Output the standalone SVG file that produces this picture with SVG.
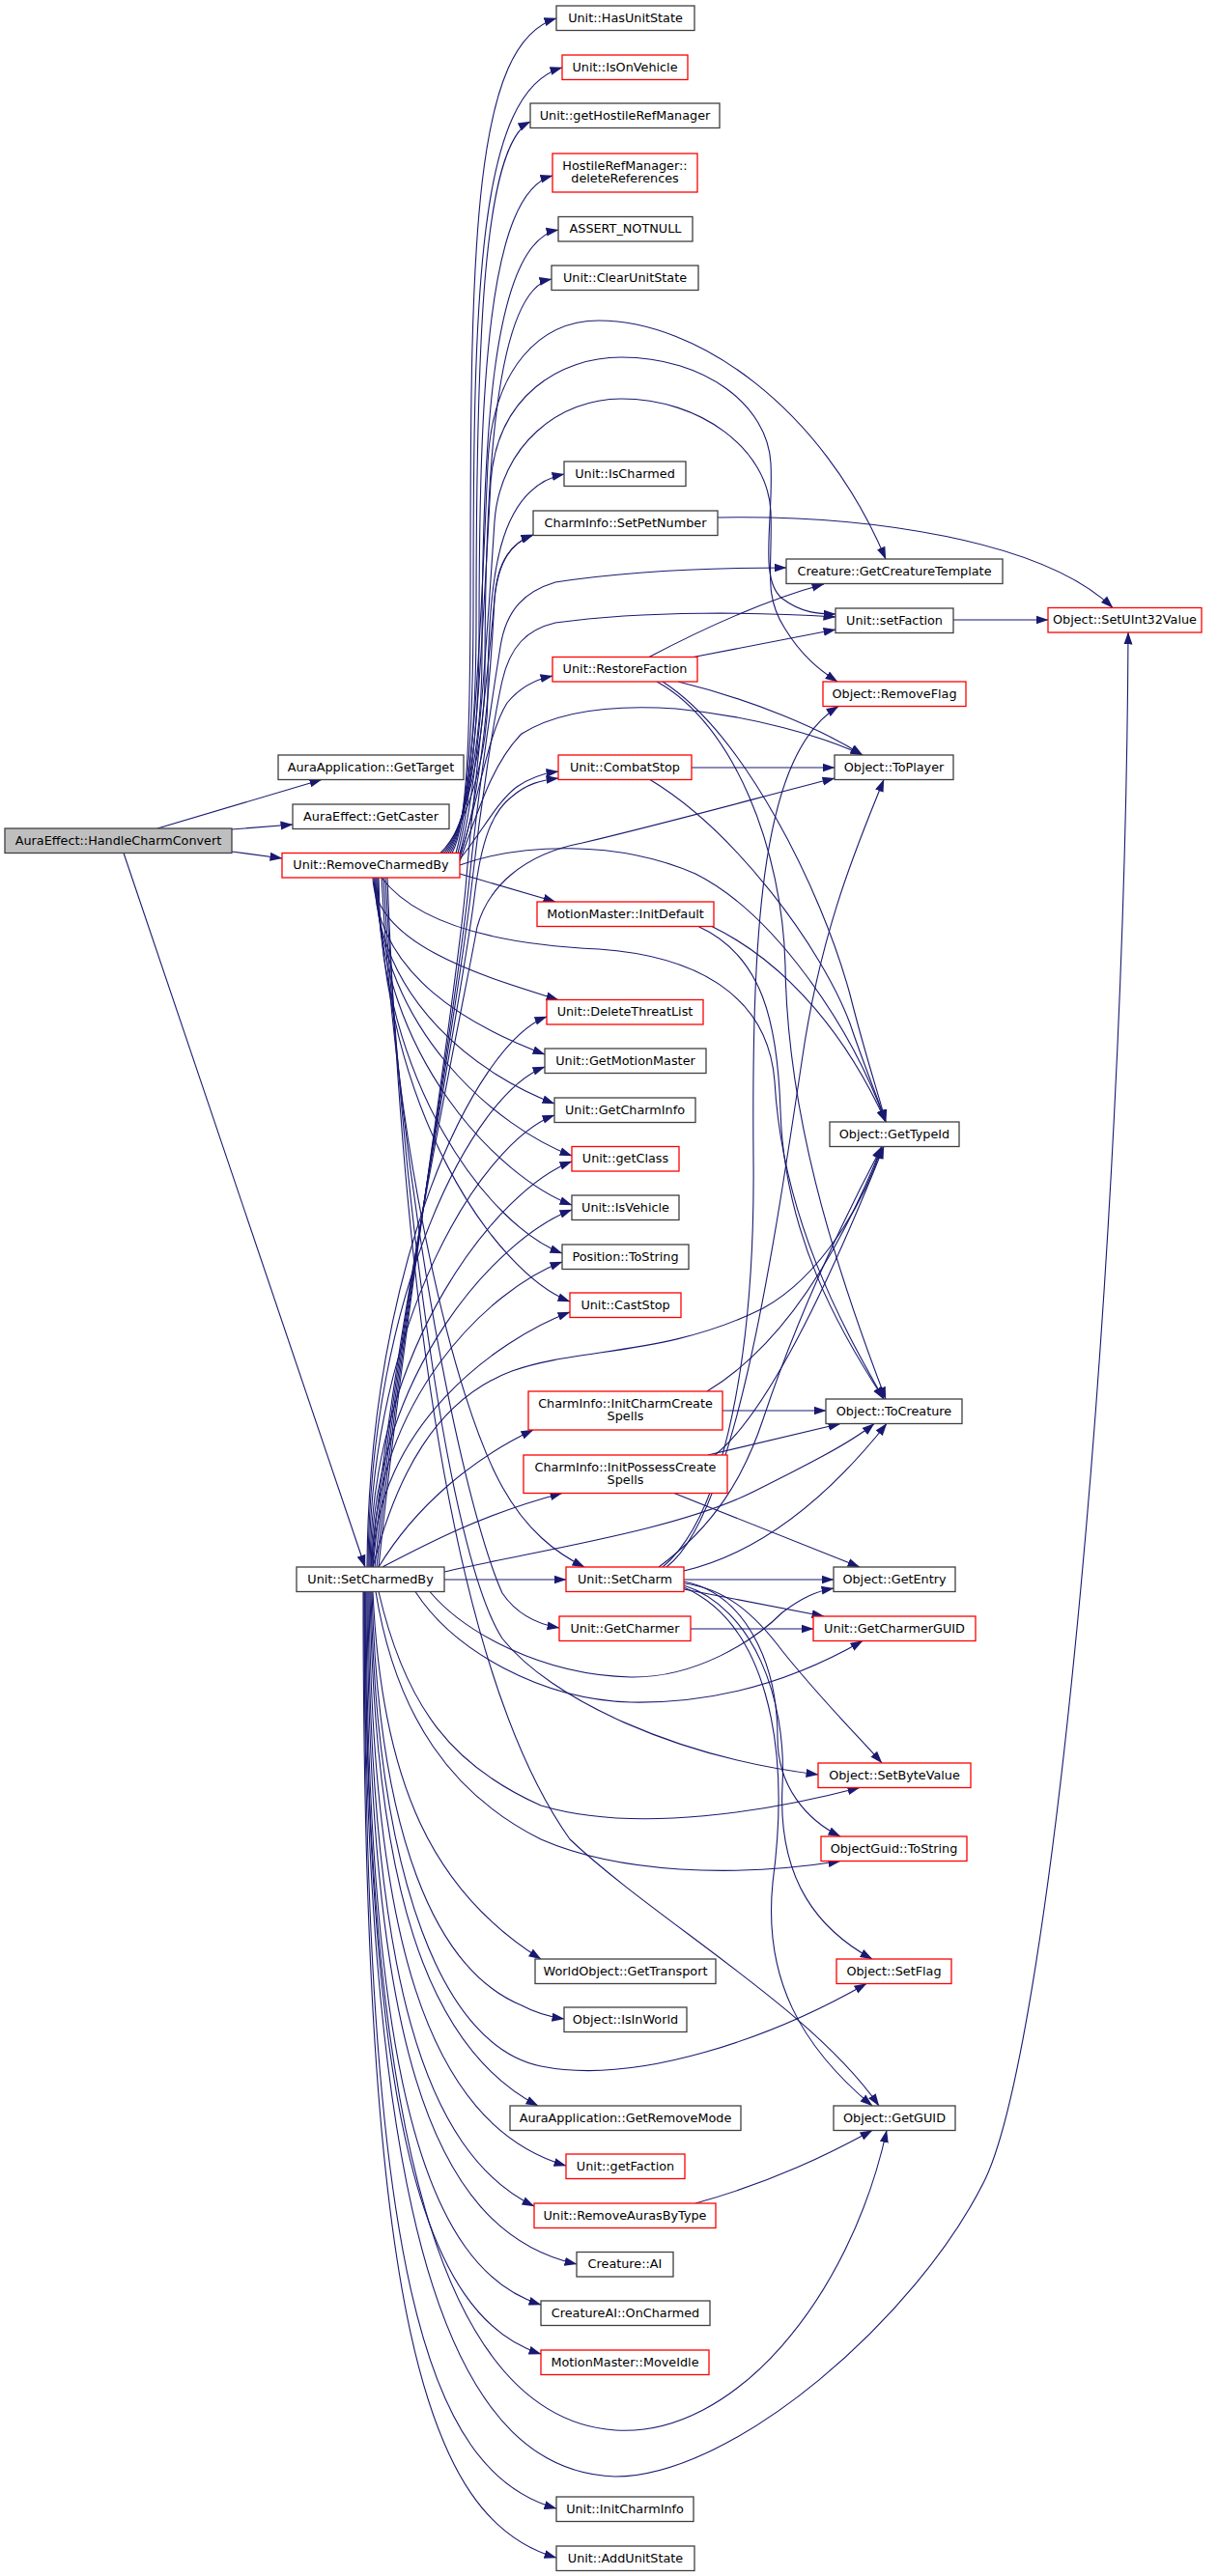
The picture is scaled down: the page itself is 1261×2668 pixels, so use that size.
<svg xmlns="http://www.w3.org/2000/svg" width="1261" height="2668" viewBox="0 0 1261 2668">
<defs>
<style>
.n rect{fill:#fff;stroke:#404040;stroke-width:1.3}
.n.r rect{stroke:#ff0000}
.n.root rect{fill:#bfbfbf}
.n text{font-family:"DejaVu Sans",Verdana,sans-serif;font-size:12.8px;text-anchor:middle;fill:#000}
#edges path{fill:none;stroke:#191970;stroke-width:1.1;marker-end:url(#arr)}
</style>
<marker id="arr" markerUnits="userSpaceOnUse" markerWidth="13" markerHeight="10" viewBox="0 0 13 10" refX="12.5" refY="5" orient="auto"><path d="M0,0.5 L13,5 L0,9.5 z" fill="#191970"/></marker>
</defs>
<rect width="1261" height="2668" fill="#fff"/>
<g id="edges">
<path d="M163,858 L333,807.5"/>
<path d="M240,859 L303,854"/>
<path d="M240,882 L292,889"/>
<path d="M128,883.5 L378,1623"/>
<path d="M468,883.5 C484,855 487,760 487,600 C487,250 490,45 576,19"/>
<path d="M466,883.5 C484,855 490,760 490,620 C490,300 495,95 582,70"/>
<path d="M464,883.5 C484,855 493,760 493,640 C493,350 500,150 549,126"/>
<path d="M462,883.5 C484,855 496,760 496,660 C496,400 505,200 572,182"/>
<path d="M460,883.5 C484,855 499,760 499,680 C499,450 510,250 578,238"/>
<path d="M458,883.5 C484,855 502,760 502,700 C502,500 512,300 571,289"/>
<path d="M456,883.5 C484,855 505,780 505,720 C505,600 515,505 584,491"/>
<path d="M472,883.5 C490,820 498,650 505,480 C510,380 560,332 620,332 C720,332 850,420 917,579"/>
<path d="M474,883.5 C492,820 500,650 508,500 C514,410 580,370 643,370 C730,370 795,420 798,480 C801,540 785,600 810,620 C830,635 848,636 865,636"/>
<path d="M476,884 C494,820 503,680 512,540 C518,460 580,413 643,413 C725,413 795,465 798,530 C800,590 790,615 812,650 C830,680 850,695 867,706"/>
<path d="M476,886 C498,830 508,700 512,620 C515,580 530,562 552,554"/>
<path d="M476,888 C495,830 505,760 525,728 C538,712 553,704 572,700"/>
<path d="M476,890 C500,860 515,830 535,815 C548,806 562,801 578,799"/>
<path d="M476,892 C495,840 510,790 540,760 C580,735 640,730 700,734 C780,742 850,762 893,782"/>
<path d="M392,1623 C420,1350 470,1050 482,920 C490,820 505,700 512,620 C516,580 530,562 552,554"/>
<path d="M390,1623 C418,1350 472,1050 485,920 C495,820 510,720 518,670 C524,630 545,612 575,603 C660,590 760,588 814,588"/>
<path d="M388,1623 C416,1350 474,1050 488,920 C498,830 512,740 520,705 C528,670 545,652 575,645 C670,632 790,634 865,639"/>
<path d="M386,1623 C414,1350 476,1050 491,930 C498,870 510,840 530,825 C545,812 560,808 578,806"/>
<path d="M384,1623 C412,1350 478,1050 494,960 C505,920 540,885 603,873 C700,850 800,822 864,806"/>
<path d="M476,905 C510,915 545,925 575,934"/>
<path d="M476,896 C540,873 640,870 720,905 C800,945 880,1060 917,1162"/>
<path d="M395,909 C430,955 510,978 620,983 C720,990 795,1030 802,1120 C810,1260 870,1370 915,1449"/>
<path d="M672,680.5 C730,650 790,622 853,605"/>
<path d="M718,680.5 L865,652"/>
<path d="M702,706 C780,725 850,755 893,782"/>
<path d="M686,706 C770,760 850,920 880,1030 C895,1090 910,1135 917,1162"/>
<path d="M680,706 C760,750 810,880 813,1000 C815,1150 860,1300 917,1449"/>
<path d="M716,795 L864,795"/>
<path d="M673,807.5 C760,860 850,980 880,1060 C895,1105 910,1140 917,1162"/>
<path d="M737,959.5 C820,1000 880,1080 917,1162"/>
<path d="M723,959.5 C790,990 805,1060 808,1150 C812,1280 870,1380 915,1449"/>
<path d="M386,909 C388,979 503,1012 578,1035.5"/>
<path d="M387,909 C389,1010 489,1064 564,1092"/>
<path d="M388,909 C390,1038 499,1115 574,1143"/>
<path d="M389,909 C391,1067 517,1169 592,1197"/>
<path d="M390,909 C392,1095 517,1220 592,1248"/>
<path d="M391,909 C393,1123 507,1270 582,1298"/>
<path d="M392,909 C394,1150 515,1320 590,1348"/>
<path d="M380,1623 C382,1310 491,1081 566,1053"/>
<path d="M381,1623 C383,1338 489,1133 564,1105"/>
<path d="M382,1623 C384,1366 499,1183 574,1155"/>
<path d="M383,1623 C385,1392 517,1231 592,1203"/>
<path d="M384,1623 C386,1420 517,1281 592,1253"/>
<path d="M385,1623 C387,1449 507,1335 582,1307"/>
<path d="M386,1623 C388,1478 515,1387 590,1359"/>
<path d="M732,1441 C800,1400 860,1320 913,1187.5"/>
<path d="M748,1461 L855,1461"/>
<path d="M733,1507 L870,1474.5"/>
<path d="M698,1546.5 L890,1623"/>
<path d="M740,1507 C800,1460 870,1300 915,1187.5"/>
<path d="M392,1623 C430,1560 490,1510 552,1481"/>
<path d="M396,1623 C440,1600 500,1568 582,1546.5"/>
<path d="M386,1623 C410,1530 450,1450 530,1420 C600,1395 690,1405 790,1355 C850,1322 895,1245 913,1187.5"/>
<path d="M460,1628 C560,1605 700,1585 780,1545 C830,1520 880,1495 905,1474.5"/>
<path d="M460,1636 L586,1636"/>
<path d="M395,909 C410,1200 470,1450 520,1540 C545,1585 575,1608 605,1623"/>
<path d="M397,909 C415,1250 480,1560 520,1650 C535,1672 555,1682 579,1686"/>
<path d="M715,1687 L842,1687"/>
<path d="M708,1636 L863,1636"/>
<path d="M708,1646 L853,1674"/>
<path d="M708,1640 C750,1645 780,1670 810,1710 C850,1760 890,1800 913,1826"/>
<path d="M708,1638 C770,1650 805,1720 805,1800 C805,1850 835,1885 870,1902"/>
<path d="M708,1642 C780,1665 815,1760 810,1850 C805,1950 850,2000 903,2029"/>
<path d="M708,1644 C790,1680 820,1800 800,1950 C790,2050 830,2120 903,2181"/>
<path d="M682,1623 C740,1580 770,1530 790,1470 C830,1350 880,1250 913,1187.5"/>
<path d="M708,1627 C780,1610 850,1560 918,1474.5"/>
<path d="M686,1623 C750,1570 782,1400 780,1200 C778,950 790,780 868,731.5"/>
<path d="M690,1623 C760,1570 800,1300 830,1100 C850,960 890,870 915,807.5"/>
<path d="M445,1648.5 C480,1690 560,1735 653,1737 C720,1738 780,1700 810,1670 C830,1655 845,1648 863,1645"/>
<path d="M430,1648.5 C470,1710 560,1760 653,1763 C760,1765 840,1730 893,1699.5"/>
<path d="M399,909 C420,1300 470,1620 520,1697 C570,1760 700,1820 847,1838"/>
<path d="M392,1648.5 C420,1770 470,1830 560,1870 C660,1900 800,1875 890,1851.5"/>
<path d="M389,1648.5 C410,1780 470,1860 560,1905 C640,1940 760,1945 870,1927.5"/>
<path d="M401,909 C420,1400 480,1750 590,1905 C680,1990 840,2080 910,2181"/>
<path d="M386,1648.5 C395,1850 450,1960 560,2029"/>
<path d="M385,1648.5 C392,1900 450,2040 540,2077 C555,2085 570,2089 584,2091"/>
<path d="M384,1648.5 C390,1950 460,2120 560,2140 C660,2160 800,2110 897,2054.5"/>
<path d="M383,1648.5 C388,1950 440,2120 557,2181"/>
<path d="M382,1648.5 C385,2000 440,2200 586,2243"/>
<path d="M381,1648.5 C383,2050 440,2230 553,2285"/>
<path d="M720,2282 C800,2260 860,2230 903,2206.5"/>
<path d="M380,1648.5 C382,2100 440,2310 597,2345"/>
<path d="M379,1648.5 C380,2150 440,2350 560,2387"/>
<path d="M378,1648.5 C379,2200 440,2400 560,2438"/>
<path d="M378,1648.5 C378,2250 470,2505 637,2517 C760,2525 880,2380 918,2206.5"/>
<path d="M377,1648.5 C377,2350 480,2560 637,2565 C760,2565 950,2400 1020,2257 C1090,2110 1165,1300 1168,655"/>
<path d="M377,1648.5 C377,2350 440,2560 576,2598"/>
<path d="M376,1648.5 C376,2400 440,2610 576,2649"/>
<path d="M743,536 C900,533 1080,560 1152,629.5"/>
<path d="M987,642 L1085,642"/>
</g>
<g id="n_hcc" class="n root"><rect x="5" y="858" width="235" height="25.5"/><text x="122.5" y="874.5">AuraEffect::HandleCharmConvert</text></g>
<g id="n_gettarget" class="n"><rect x="288" y="782" width="192" height="25.5"/><text x="384" y="798.5">AuraApplication::GetTarget</text></g>
<g id="n_getcaster" class="n"><rect x="303" y="833" width="162" height="25.5"/><text x="384" y="849.5">AuraEffect::GetCaster</text></g>
<g id="n_rcb" class="n r"><rect x="292" y="883.5" width="184" height="25.5"/><text x="384" y="900">Unit::RemoveCharmedBy</text></g>
<g id="n_scb" class="n"><rect x="307" y="1623" width="153" height="25.5"/><text x="383.5" y="1639.5">Unit::SetCharmedBy</text></g>
<g id="n_hasunitstate" class="n"><rect x="576" y="6" width="143" height="25.5"/><text x="647.5" y="22.5">Unit::HasUnitState</text></g>
<g id="n_isonvehicle" class="n r"><rect x="582" y="57" width="130" height="25.5"/><text x="647" y="73.5">Unit::IsOnVehicle</text></g>
<g id="n_gethostile" class="n"><rect x="549" y="107" width="196" height="25.5"/><text x="647" y="123.5">Unit::getHostileRefManager</text></g>
<g id="n_deleterefs" class="n r"><rect x="572" y="159" width="150" height="40"/><text x="647" y="175.5">HostileRefManager::</text><text x="647" y="189">deleteReferences</text></g>
<g id="n_assert" class="n"><rect x="578" y="224.5" width="139" height="25.5"/><text x="647.5" y="241">ASSERT_NOTNULL</text></g>
<g id="n_clearunitstate" class="n"><rect x="571" y="275" width="152" height="25.5"/><text x="647" y="291.5">Unit::ClearUnitState</text></g>
<g id="n_ischarmed" class="n"><rect x="584" y="478" width="126" height="25.5"/><text x="647" y="494.5">Unit::IsCharmed</text></g>
<g id="n_setpetnumber" class="n"><rect x="552" y="529" width="191" height="25.5"/><text x="647.5" y="545.5">CharmInfo::SetPetNumber</text></g>
<g id="n_restorefaction" class="n r"><rect x="572" y="680.5" width="150" height="25.5"/><text x="647" y="697">Unit::RestoreFaction</text></g>
<g id="n_combatstop" class="n r"><rect x="578" y="782" width="138" height="25.5"/><text x="647" y="798.5">Unit::CombatStop</text></g>
<g id="n_initdefault" class="n r"><rect x="556" y="934" width="183" height="25.5"/><text x="647.5" y="950.5">MotionMaster::InitDefault</text></g>
<g id="n_deletethreat" class="n r"><rect x="566" y="1035.5" width="162" height="25.5"/><text x="647" y="1052">Unit::DeleteThreatList</text></g>
<g id="n_getmotionmaster" class="n"><rect x="564" y="1086" width="167" height="25.5"/><text x="647.5" y="1102.5">Unit::GetMotionMaster</text></g>
<g id="n_getcharminfo" class="n"><rect x="574" y="1137" width="146" height="25.5"/><text x="647" y="1153.5">Unit::GetCharmInfo</text></g>
<g id="n_getclass" class="n r"><rect x="592" y="1187.5" width="111" height="25.5"/><text x="647.5" y="1204">Unit::getClass</text></g>
<g id="n_isvehicle" class="n"><rect x="592" y="1238" width="111" height="25.5"/><text x="647.5" y="1254.5">Unit::IsVehicle</text></g>
<g id="n_postostring" class="n"><rect x="582" y="1289" width="131" height="25.5"/><text x="647.5" y="1305.5">Position::ToString</text></g>
<g id="n_caststop" class="n r"><rect x="590" y="1339" width="115" height="25.5"/><text x="647.5" y="1355.5">Unit::CastStop</text></g>
<g id="n_initcharmcreate" class="n r"><rect x="547" y="1441" width="201" height="40"/><text x="647.5" y="1457.5">CharmInfo::InitCharmCreate</text><text x="647.5" y="1471">Spells</text></g>
<g id="n_initpossess" class="n r"><rect x="542" y="1507" width="211" height="39.5"/><text x="647.5" y="1523.5">CharmInfo::InitPossessCreate</text><text x="647.5" y="1537">Spells</text></g>
<g id="n_setcharm" class="n r"><rect x="586" y="1623" width="122" height="25.5"/><text x="647" y="1639.5">Unit::SetCharm</text></g>
<g id="n_getcharmer" class="n r"><rect x="579" y="1674" width="136" height="25.5"/><text x="647" y="1690.5">Unit::GetCharmer</text></g>
<g id="n_gettransport" class="n"><rect x="554" y="2029" width="187" height="25.5"/><text x="647.5" y="2045.5">WorldObject::GetTransport</text></g>
<g id="n_isinworld" class="n"><rect x="584" y="2079" width="127" height="25.5"/><text x="647.5" y="2095.5">Object::IsInWorld</text></g>
<g id="n_getremovemode" class="n"><rect x="528" y="2181" width="239" height="25.5"/><text x="647.5" y="2197.5">AuraApplication::GetRemoveMode</text></g>
<g id="n_getfaction" class="n r"><rect x="586" y="2231" width="123" height="25.5"/><text x="647.5" y="2247.5">Unit::getFaction</text></g>
<g id="n_removeaurasbytype" class="n r"><rect x="553" y="2282" width="188" height="25.5"/><text x="647" y="2298.5">Unit::RemoveAurasByType</text></g>
<g id="n_ai" class="n"><rect x="597" y="2332.5" width="100" height="25.5"/><text x="647" y="2349">Creature::AI</text></g>
<g id="n_oncharmed" class="n"><rect x="560" y="2383" width="175" height="25.5"/><text x="647.5" y="2399.5">CreatureAI::OnCharmed</text></g>
<g id="n_moveidle" class="n r"><rect x="560" y="2434" width="174" height="25.5"/><text x="647" y="2450.5">MotionMaster::MoveIdle</text></g>
<g id="n_initcharminfo" class="n"><rect x="576" y="2586" width="142" height="25.5"/><text x="647" y="2602.5">Unit::InitCharmInfo</text></g>
<g id="n_addunitstate" class="n"><rect x="576" y="2637" width="143" height="25.5"/><text x="647.5" y="2653.5">Unit::AddUnitState</text></g>
<g id="n_getcreaturetemplate" class="n"><rect x="814" y="579" width="224" height="25.5"/><text x="926" y="595.5">Creature::GetCreatureTemplate</text></g>
<g id="n_setfaction" class="n"><rect x="865" y="630" width="122" height="25.5"/><text x="926" y="646.5">Unit::setFaction</text></g>
<g id="n_removeflag" class="n r"><rect x="852" y="706" width="148" height="25.5"/><text x="926" y="722.5">Object::RemoveFlag</text></g>
<g id="n_toplayer" class="n"><rect x="864" y="782" width="123" height="25.5"/><text x="925.5" y="798.5">Object::ToPlayer</text></g>
<g id="n_gettypeid" class="n"><rect x="859" y="1162" width="134" height="25.5"/><text x="926" y="1178.5">Object::GetTypeId</text></g>
<g id="n_tocreature" class="n"><rect x="855" y="1449" width="141" height="25.5"/><text x="925.5" y="1465.5">Object::ToCreature</text></g>
<g id="n_getentry" class="n"><rect x="863" y="1623" width="126" height="25.5"/><text x="926" y="1639.5">Object::GetEntry</text></g>
<g id="n_getcharmerguid" class="n r"><rect x="842" y="1674" width="168" height="25.5"/><text x="926" y="1690.5">Unit::GetCharmerGUID</text></g>
<g id="n_setbytevalue" class="n r"><rect x="847" y="1826" width="158" height="25.5"/><text x="926" y="1842.5">Object::SetByteValue</text></g>
<g id="n_guidtostring" class="n r"><rect x="850" y="1902" width="151" height="25.5"/><text x="925.5" y="1918.5">ObjectGuid::ToString</text></g>
<g id="n_setflag" class="n r"><rect x="866" y="2029" width="119" height="25.5"/><text x="925.5" y="2045.5">Object::SetFlag</text></g>
<g id="n_getguid" class="n"><rect x="863" y="2181" width="126" height="25.5"/><text x="926" y="2197.5">Object::GetGUID</text></g>
<g id="n_setuint32value" class="n r"><rect x="1085" y="629.5" width="159" height="25.5"/><text x="1164.5" y="646">Object::SetUInt32Value</text></g>
</svg>
